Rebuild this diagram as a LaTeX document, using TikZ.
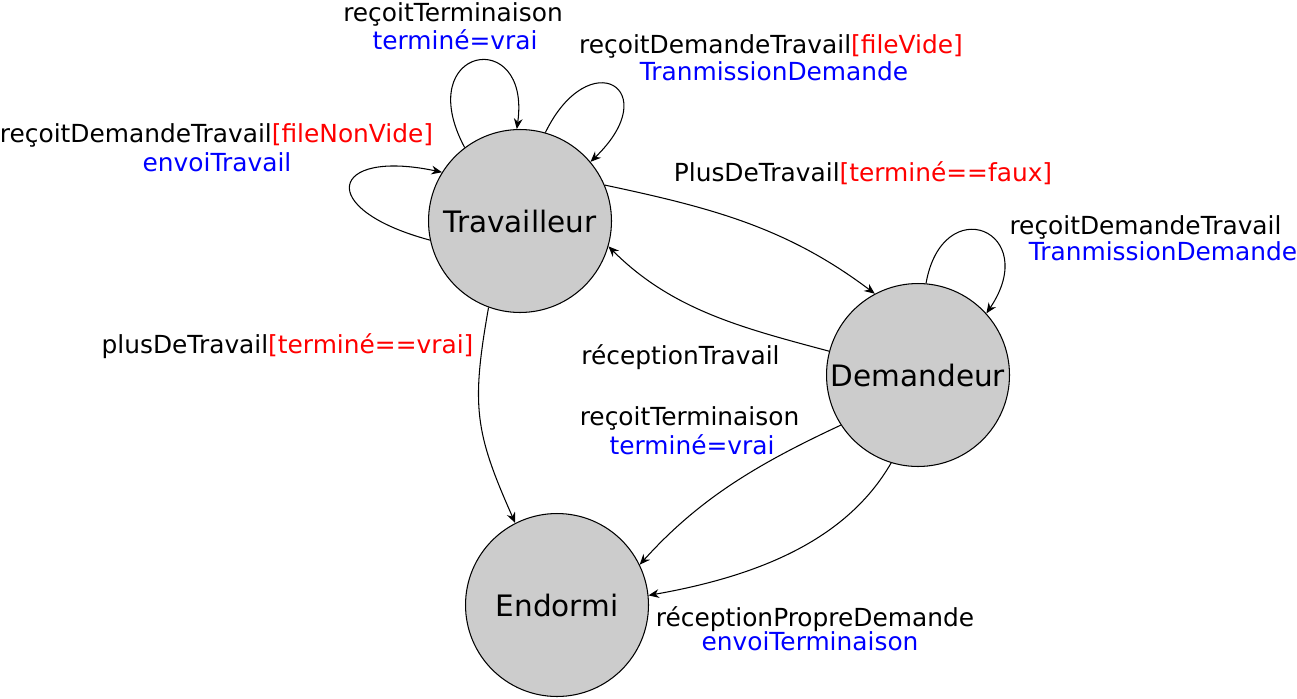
\documentclass[tikz,border=0pt]{standalone}
\usepackage{fontspec}
\setmainfont{DejaVu Sans}
\usetikzlibrary{arrows.meta}

\begin{document}
\begin{tikzpicture}[x=0.02cm, y=0.02cm,
	etat/.style={circle, draw, line width=0.6pt, fill=gray!40, minimum size=3.66cm, inner sep=0pt, font=\fontsize{16.8}{20}\selectfont},
	lbl/.style={anchor=base, inner sep=0pt, font=\fontsize{14.15}{17}\selectfont},
	fl/.style={line width=0.6pt, -{Stealth[length=6pt, width=5pt, inset=2pt]}}]
	\useasboundingbox (0, 0) rectangle (1297, 698);
	% etats
	\node[etat] (trav) at (520, 477) {Travailleur};
	\node[etat] (dem) at (918, 323) {Demandeur};
	\node[etat] (endo) at (557, 93) {Endormi};

	% boucles
	\draw[fl] (trav.127) .. controls +(118:115) and +(82:105) .. (trav.92);
	\draw[fl] (trav.74) .. controls +(64:100) and +(44:105) .. (trav.40);
	\draw[fl] (trav.192) .. controls +(165:120) and +(168:115) .. (trav.148);
	\draw[fl] (dem.85) .. controls +(80:95) and +(56:100) .. (dem.42);

	% transitions
	\draw[fl] (trav.23) .. controls +(-12:110) and +(143:110) .. (dem.118);
	\draw[fl] (dem.165) .. controls +(165:90) and +(-45:90) .. (trav.-16);
	\draw[fl] (trav.250) .. controls +(260:100) and +(114:100) .. (endo.117);
	\draw[fl] (dem.213) .. controls +(205:90) and +(48:90) .. (endo.26);
	\draw[fl] (dem.253) .. controls +(240:90) and +(10:110) .. (endo.6);

	% etiquettes
	\node[lbl] (tTermA) at (453, 677) {reçoitTerminaison};
	\node[lbl, blue] (tTermB) at (455, 649) {terminé=vrai};
	\node[lbl] (tVideA) at (771, 644) {reçoitDemandeTravail\textcolor{red}{[fileVide]}};
	\node[lbl, blue] (tVideB) at (774, 618) {TranmissionDemande};
	\node[lbl] (tNonVideA) at (216.5, 556) {reçoitDemandeTravail\textcolor{red}{[fileNonVide]}};
	\node[lbl, blue] (tNonVideB) at (217, 527) {envoiTravail};
	\node[lbl] (tFaux) at (863, 517) {PlusDeTravail\textcolor{red}{[terminé==faux]}};
	\node[lbl] (dDemA) at (1145.5, 464) {reçoitDemandeTravail};
	\node[lbl, blue] (dDemB) at (1163, 438) {TranmissionDemande};
	\node[lbl] (tVrai) at (287.5, 345) {plusDeTravail\textcolor{red}{[terminé==vrai]}};
	\node[lbl] (dRecep) at (680.5, 334) {réceptionTravail};
	\node[lbl] (dTermA) at (689.5, 273) {reçoitTerminaison};
	\node[lbl, blue] (dTermB) at (692, 244) {terminé=vrai};
	\node[lbl] (dPropreA) at (815, 72) {réceptionPropreDemande};
	\node[lbl, blue] (dPropreB) at (810, 48) {envoiTerminaison};
\end{tikzpicture}
\end{document}
